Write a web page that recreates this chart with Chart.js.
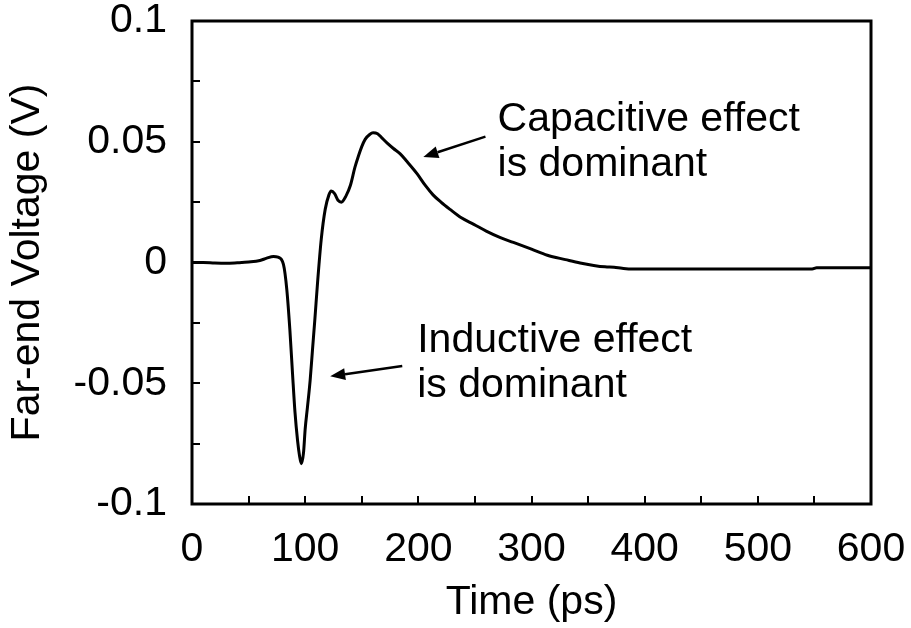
<!DOCTYPE html>
<html>
<head>
<meta charset="utf-8">
<script src="https://cdn.jsdelivr.net/npm/chart.js@4.4.1/dist/chart.umd.min.js"></script>
<style>
  html, body { margin: 0; padding: 0; background: #fff; }
  #wrap { width: 911px; height: 628px; position: relative; }
</style>
</head>
<body>
<div id="wrap"><canvas id="c" width="911" height="628"></canvas></div>
<script>
// Far-end crosstalk waveform
const timePs = [0, 10, 20, 30, 40, 50, 60, 66, 72, 76, 80.8, 83.8, 86.5, 88.8, 91, 93.3, 95, 96.6, 98.6, 100, 102, 104.4, 106.5, 108.5, 111, 114.2, 117.7, 121, 123, 126, 129, 132, 136, 140, 144, 147, 150, 153, 157, 160, 164, 168, 173, 178, 184, 190, 199, 206, 213, 220, 228, 238, 249, 260, 272, 284, 300, 314, 330, 343, 355, 365, 373, 380, 389, 400, 450, 500, 548, 552, 600];
const voltV = [0, 0, -0.0002, -0.0003, -0.0001, 0.0002, 0.0008, 0.0018, 0.0025, 0.0022, -0.0008, -0.0113, -0.028, -0.0458, -0.062, -0.0738, -0.080, -0.0833, -0.0785, -0.069, -0.060, -0.0488, -0.036, -0.024, -0.008, 0.0096, 0.022, 0.028, 0.0296, 0.0285, 0.0258, 0.025, 0.0275, 0.032, 0.0395, 0.044, 0.048, 0.051, 0.053, 0.0537, 0.0533, 0.0515, 0.0492, 0.0472, 0.045, 0.0418, 0.0367, 0.032, 0.028, 0.025, 0.022, 0.0185, 0.0158, 0.013, 0.0104, 0.0083, 0.0055, 0.003, 0.0012, -0.0002, -0.0012, -0.0018, -0.002, -0.0024, -0.0027, -0.0027, -0.0027, -0.0027, -0.0027, -0.0022, -0.0022];

// Axis ranges and labelled ticks
const xTickLabels = [0, 100, 200, 300, 400, 500, 600];
const yTickLabels = [0.1, 0.05, 0, -0.05, -0.1];

// Callout texts with their arrows (positions in data units)
const calloutLines = [["Capacitive effect", "is dominant"], ["Inductive effect", "is dominant"]];
const calloutTextAt = [[270, 0.0545], [199, -0.0372]];
const arrowTail = [[259.3, 0.0521], [185.8, -0.0429]];
const arrowTip = [[204.4, 0.0437], [122.1, -0.0471]];

const FONT = '"Liberation Sans", Arial, Helvetica, sans-serif';
const FS = 41;

const points = timePs.map((t, i) => ({ x: t, y: voltV[i] }));

const framePlugin = {
  id: 'frame',
  afterDraw(chart) {
    const { ctx, chartArea: a, scales: { x, y } } = chart;
    ctx.save();
    ctx.strokeStyle = '#000';
    // inward tick marks
    ctx.lineWidth = 2;
    ctx.beginPath();
    x.ticks.forEach(t => {
      const px = Math.round(x.getPixelForValue(t.value));
      ctx.moveTo(px, a.bottom);
      ctx.lineTo(px, a.bottom - 8);
    });
    y.ticks.forEach(t => {
      const py = Math.round(y.getPixelForValue(t.value));
      ctx.moveTo(a.left, py);
      ctx.lineTo(a.left + 8, py);
    });
    ctx.stroke();
    // box around the plot
    ctx.lineWidth = 3;
    ctx.strokeRect(a.left, a.top, a.right - a.left, a.bottom - a.top);

    // callouts
    ctx.fillStyle = '#000';
    ctx.font = FS + 'px ' + FONT;
    ctx.textAlign = 'left';
    ctx.textBaseline = 'alphabetic';
    calloutLines.forEach((lines, i) => {
      const tx = x.getPixelForValue(calloutTextAt[i][0]);
      const ty = y.getPixelForValue(calloutTextAt[i][1]);
      lines.forEach((s, j) => ctx.fillText(s, tx, ty + j * 45));

      const x0 = x.getPixelForValue(arrowTail[i][0]);
      const y0 = y.getPixelForValue(arrowTail[i][1]);
      const x1 = x.getPixelForValue(arrowTip[i][0]);
      const y1 = y.getPixelForValue(arrowTip[i][1]);
      const ang = Math.atan2(y1 - y0, x1 - x0);
      const hl = 15, hw = 6;
      const bx = x1 - hl * Math.cos(ang), by = y1 - hl * Math.sin(ang);
      ctx.lineWidth = 2.5;
      ctx.beginPath();
      ctx.moveTo(x0, y0);
      ctx.lineTo(bx, by);
      ctx.stroke();
      ctx.beginPath();
      ctx.moveTo(x1, y1);
      ctx.lineTo(bx + hw * Math.sin(ang), by - hw * Math.cos(ang));
      ctx.lineTo(bx - hw * Math.sin(ang), by + hw * Math.cos(ang));
      ctx.closePath();
      ctx.fill();
    });
    ctx.restore();
  }
};

Chart.defaults.font.family = FONT;
Chart.defaults.color = '#000';

new Chart(document.getElementById('c'), {
  type: 'line',
  data: {
    datasets: [{
      data: points,
      borderColor: '#000',
      borderWidth: 3,
      pointRadius: 0,
      fill: false,
      cubicInterpolationMode: 'monotone'
    }]
  },
  options: {
    responsive: false,
    animation: false,
    events: [],
    layout: { padding: { top: 21, right: 40, left: 0, bottom: 0 } },
    plugins: { legend: { display: false }, tooltip: { enabled: false } },
    scales: {
      x: {
        type: 'linear',
        min: 0, max: 600,
        grid: { display: true, drawOnChartArea: false, drawTicks: false },
        border: { display: false },
        ticks: {
          stepSize: 50,
          padding: 21,
          maxRotation: 0,
          autoSkip: false,
          font: { size: FS },
          callback: v => xTickLabels.includes(Math.round(v)) ? String(Math.round(v)) : ''
        },
        title: { display: true, text: 'Time (ps)', font: { size: FS }, padding: { top: 0, bottom: 1 } },
        afterFit: s => { s.height = 124; s.paddingLeft = 0; s.paddingRight = 0; }
      },
      y: {
        type: 'linear',
        min: -0.1, max: 0.1,
        grid: { display: true, drawOnChartArea: false, drawTicks: false },
        border: { display: false },
        ticks: {
          stepSize: 0.025,
          padding: 25,
          autoSkip: false,
          font: { size: FS },
          callback: v => {
            const r = Math.round(v * 1000) / 1000;
            const hit = yTickLabels.find(l => Math.abs(l - r) < 1e-6);
            return hit === undefined ? '' : String(hit);
          }
        },
        title: { display: true, text: 'Far-end Voltage (V)', font: { size: FS }, padding: { top: 3, bottom: 0 } },
        afterFit: s => { s.width = 192; s.paddingTop = 0; s.paddingBottom = 0; }
      }
    }
  },
  plugins: [framePlugin]
});
</script>
</body>
</html>
